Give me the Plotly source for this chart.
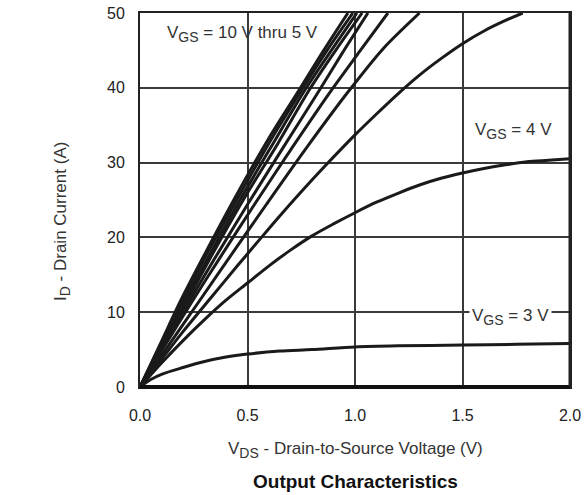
import plotly.graph_objects as go

# VDS (V) / ID (A), one pair of lists per gate voltage curve
v_10 = [0, 0.1, 0.19, 0.3, 0.44, 0.6, 0.74, 0.85, 0.967]
i_10 = [0, 6.1, 11.6, 17.7, 25.2, 33.3, 39.7, 44.8, 50]
v_9 = [0, 0.1, 0.2, 0.3, 0.45, 0.6, 0.752, 0.87, 0.99]
i_9 = [0, 5.9, 11.6, 17.2, 25, 32.6, 39.7, 45, 50]
v_8 = [0, 0.1, 0.21, 0.32, 0.465, 0.62, 0.767, 0.89, 1.009]
i_8 = [0, 5.6, 11.6, 17.5, 25, 32.6, 39.7, 45, 50]
v_7 = [0, 0.1, 0.22, 0.33, 0.48, 0.64, 0.787, 0.91, 1.033]
i_7 = [0, 5.4, 11.6, 17.4, 25, 32.5, 39.7, 45, 50]
v_6 = [0, 0.1, 0.232, 0.35, 0.50, 0.67, 0.822, 0.94, 1.06]
i_6 = [0, 5.1, 11.6, 17.3, 24.4, 32.2, 39.1, 44.6, 50]
v_55 = [0, 0.1, 0.246, 0.37, 0.53, 0.71, 0.876, 1.02, 1.153]
i_55 = [0, 4.8, 11.6, 17.2, 24.3, 32.1, 39.1, 44.8, 50]
v_5 = [0, 0.1, 0.293, 0.43, 0.59, 0.78, 0.969, 1.13, 1.30]
i_5 = [0, 4.2, 12.2, 17.9, 24.5, 32.2, 39.5, 45.2, 50]
v_45 = [0, 0.1, 0.2, 0.326, 0.45, 0.55, 0.642, 0.75, 0.856, 1.0, 1.1, 1.2, 1.3, 1.4, 1.5, 1.6, 1.7, 1.78]
i_45 = [0, 3.7, 7.4, 11.8, 16.1, 19.5, 22.6, 26.1, 29.4, 33.7, 36.5, 39.2, 41.7, 43.9, 45.9, 47.6, 49.0, 50]
v_4 = [0, 0.1, 0.2, 0.3, 0.4, 0.5, 0.6, 0.7, 0.8, 0.9, 1.0, 1.1, 1.2, 1.3, 1.4, 1.5, 1.6, 1.7, 1.8, 1.9, 2.0]
i_4 = [0, 3.2, 6.2, 9.0, 11.6, 13.9, 16.2, 18.3, 20.2, 21.8, 23.3, 24.7, 25.9, 27.0, 27.9, 28.6, 29.2, 29.7, 30.1, 30.3, 30.5]
v_3 = [0, 0.05, 0.1, 0.2, 0.3, 0.4, 0.5, 0.65, 0.8, 1.0, 1.2, 1.5, 1.75, 2.0]
i_3 = [0, 1.0, 1.7, 2.6, 3.4, 4.0, 4.4, 4.8, 5.0, 5.35, 5.5, 5.6, 5.7, 5.8]

curves = [(v_10, i_10), (v_9, i_9), (v_8, i_8), (v_7, i_7), (v_6, i_6),
          (v_55, i_55), (v_5, i_5), (v_45, i_45), (v_4, i_4), (v_3, i_3)]

x_ticks = [0.0, 0.5, 1.0, 1.5, 2.0]
x_tick_text = ["0.0", "0.5", "1.0", "1.5", "2.0"]
y_ticks = [0, 10, 20, 30, 40, 50]

FONT = "Liberation Sans, Arial, sans-serif"
INK = "#1a1a1a"
W, H = 584, 495
ML, MR, MT, MB = 140, 14, 13, 108
PW, PH = W - ML - MR, H - MT - MB


def px_to_paper(px, py):
    return (px - ML) / PW, (H - py - MB) / PH


def sub(s):
    return '<sub><span style="font-size:14px">' + s + '</span></sub>'


fig = go.Figure()
for vx, iy in curves:
    fig.add_trace(go.Scatter(x=vx, y=iy, mode="lines",
                             line=dict(color=INK, width=3, shape="spline", smoothing=0.8),
                             showlegend=False, hoverinfo="skip"))

xt_x, xt_y = px_to_paper(355, 450)
tt_x, tt_y = px_to_paper(355, 481)
yt_x, yt_y = px_to_paper(62, 222)

fig.update_layout(
    width=W, height=H,
    margin=dict(l=ML, r=MR, t=MT, b=MB, autoexpand=False),
    paper_bgcolor="white", plot_bgcolor="white",
    font=dict(family=FONT, size=16, color=INK),
    xaxis=dict(range=[0, 2.0], tickvals=x_ticks, ticktext=x_tick_text,
               showgrid=True, gridcolor="#3a3a3a", gridwidth=1.5,
               showline=True, linecolor="#222", linewidth=2, mirror=True,
               zeroline=False, ticks="", ticklabelstandoff=13, automargin=False,
               tickfont=dict(size=16, color="#222")),
    yaxis=dict(range=[0, 50], tickvals=y_ticks,
               showgrid=True, gridcolor="#3a3a3a", gridwidth=1.5,
               showline=True, linecolor="#222", linewidth=2, mirror=True,
               zeroline=False, ticks="", ticklabelstandoff=10, automargin=False,
               tickfont=dict(size=16, color="#222")),
    shapes=[dict(type="line", xref="paper", yref="paper", x0=0, x1=1, y0=0, y1=0,
                 line=dict(color="#111", width=4)),
            dict(type="line", xref="paper", yref="paper", x0=1, x1=1, y0=0, y1=1,
                 line=dict(color="#222", width=3))],
    annotations=[
        dict(x=0.116, y=47.2, xref="x", yref="y", xanchor="left", yanchor="middle",
             text="V" + sub("GS") + " = 10 V thru 5 V", showarrow=False,
             font=dict(size=17, color="#333")),
        dict(x=1.735, y=34.2, xref="x", yref="y", xanchor="center", yanchor="middle",
             text="V" + sub("GS") + " = 4 V", showarrow=False,
             font=dict(size=17, color="#333")),
        dict(x=1.725, y=9.4, xref="x", yref="y", xanchor="center", yanchor="middle",
             text="V" + sub("GS") + " = 3 V", showarrow=False, bgcolor="white",
             borderpad=2, font=dict(size=17, color="#333")),
        dict(x=xt_x, y=xt_y, xref="paper", yref="paper", showarrow=False,
             xanchor="center", yanchor="middle",
             text="V" + sub("DS") + " - Drain-to-Source Voltage (V)",
             font=dict(size=17, color="#333")),
        dict(x=tt_x, y=tt_y, xref="paper", yref="paper", showarrow=False,
             xanchor="center", yanchor="middle",
             text="<b>Output Characteristics</b>",
             font=dict(size=19, color="#111")),
        dict(x=yt_x, y=yt_y, xref="paper", yref="paper", showarrow=False,
             xanchor="center", yanchor="middle",
             textangle=-90, text="I" + sub("D") + " - Drain Current (A)",
             font=dict(size=17, color="#333")),
    ],
)

fig.write_html("out.html")
